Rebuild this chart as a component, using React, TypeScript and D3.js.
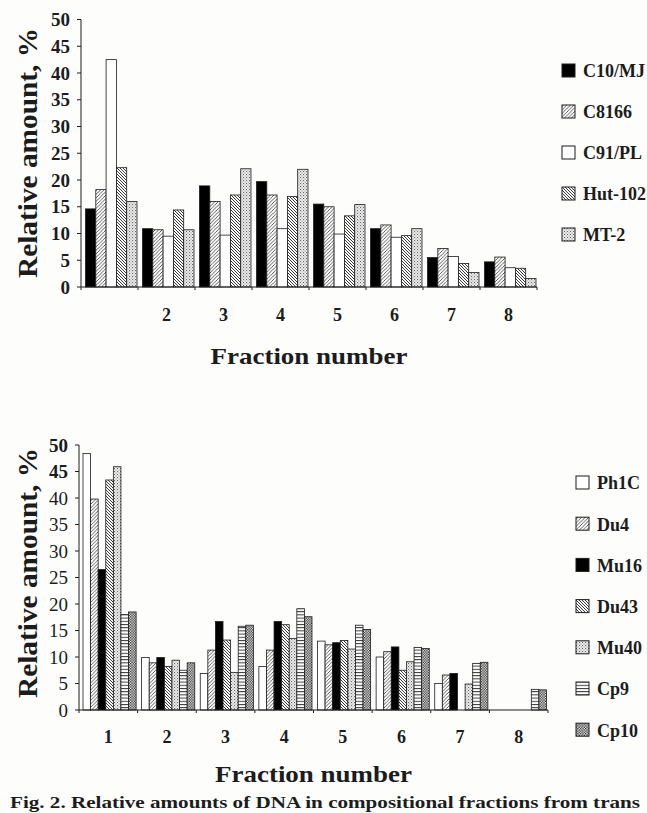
import React from "react";
import * as d3 from "d3";

const fractions = ["1", "2", "3", "4", "5", "6", "7", "8"];
const yTicks = [0, 5, 10, 15, 20, 25, 30, 35, 40, 45, 50];

const topSeries = ["C10/MJ", "C8166", "C91/PL", "Hut-102", "MT-2"];
const topC10MJ = [14.6, 10.9, 18.9, 19.7, 15.5, 10.9, 5.5, 4.7];
const topC8166 = [18.2, 10.7, 16.0, 17.2, 15.0, 11.6, 7.2, 5.6];
const topC91PL = [42.5, 9.5, 9.7, 10.9, 9.9, 9.3, 5.7, 3.6];
const topHut102 = [22.3, 14.4, 17.2, 16.9, 13.3, 9.6, 4.4, 3.5];
const topMT2 = [16.0, 10.7, 22.1, 22.0, 15.4, 10.9, 2.7, 1.6];
const topValues = [topC10MJ, topC8166, topC91PL, topHut102, topMT2];
const topFills = ["black", "url(#fwd)", "white", "url(#back)", "url(#dots)"];
const topXLabels = ["", "2", "3", "4", "5", "6", "7", "8"];

const botSeries = ["Ph1C", "Du4", "Mu16", "Du43", "Mu40", "Cp9", "Cp10"];
const botPh1C = [48.4, 9.9, 6.9, 8.2, 13.0, 10.0, 5.0, 0];
const botDu4 = [39.8, 8.9, 11.3, 11.3, 12.3, 11.0, 6.6, 0];
const botMu16 = [26.5, 9.9, 16.7, 16.7, 12.7, 11.9, 6.9, 0];
const botDu43 = [43.4, 8.2, 13.2, 16.1, 13.1, 7.5, 0, 0];
const botMu40 = [45.9, 9.4, 7.1, 13.5, 11.5, 9.1, 4.9, 0];
const botCp9 = [18.0, 7.5, 15.8, 19.1, 16.0, 11.8, 8.8, 3.9];
const botCp10 = [18.5, 8.9, 16.0, 17.6, 15.2, 11.6, 9.0, 3.8];
const botValues = [botPh1C, botDu4, botMu16, botDu43, botMu40, botCp9, botCp10];
const botFills = ["white", "url(#fwd)", "black", "url(#back)", "url(#dots)", "url(#hlines)", "url(#checks)"];
const botXLabels = ["1", "2", "3", "4", "5", "6", "7", "8"];

const serif = "'Liberation Serif', 'Times New Roman', serif";
const ink = "#1c1c1c";

type PanelProps = {
  series: string[];
  values: number[][];
  fills: string[];
  xLabels: string[];
  x0: number;
  x1: number;
  yZero: number;
  yTop: number;
  innerPad: [number, number];
  labelY: number;
  titleY: number;
  yTitleCenter: number;
  legendX: number;
  legendY0: number;
  legendStep: number;
  tickLabelRight: number;
  boldTicks: (v: number) => boolean;
};

function Panel(p: PanelProps) {
  const xg = d3.scaleBand<string>().domain(fractions).range([p.x0, p.x1]).padding(0);
  const xi = d3
    .scaleBand<string>()
    .domain(p.series)
    .range([p.innerPad[0], xg.bandwidth() - p.innerPad[1]])
    .padding(0);
  const y = d3.scaleLinear().domain([0, 50]).range([p.yZero, p.yTop]);
  const boundaries = fractions.map((f) => xg(f) as number).concat([p.x1]);

  return (
    <g>
      {p.series.map((s, si) =>
        fractions.map((f, fi) => {
          const v = p.values[si][fi];
          const bx = (xg(f) as number) + (xi(s) as number);
          return (
            <rect
              key={s + f}
              x={bx}
              y={y(v)}
              width={xi.bandwidth()}
              height={p.yZero - y(v)}
              fill={p.fills[si]}
              stroke={ink}
              strokeWidth={0.8}
            />
          );
        })
      )}
      <line x1={p.x0} x2={p.x0} y1={y(50)} y2={p.yZero} stroke={ink} strokeWidth={1} />
      <line x1={p.x0} x2={p.x1} y1={p.yZero} y2={p.yZero} stroke={ink} strokeWidth={1} />
      {yTicks.map((t) => (
        <g key={"yt" + t}>
          <line x1={p.x0 - 4} x2={p.x0} y1={y(t)} y2={y(t)} stroke={ink} strokeWidth={1} />
          <text
            x={p.tickLabelRight}
            y={y(t)}
            dy="0.35em"
            textAnchor="end"
            fontFamily={serif}
            fontWeight={p.boldTicks(t) ? "bold" : "normal"}
            fontSize={19}
            fill={ink}
          >
            {t}
          </text>
        </g>
      ))}
      {boundaries.map((b, i) => (
        <line key={"xt" + i} x1={b} x2={b} y1={p.yZero} y2={p.yZero + 3} stroke={ink} strokeWidth={1} />
      ))}
      {fractions.map((f, i) => (
        <text
          key={"xl" + f}
          x={(xg(f) as number) + xg.bandwidth() / 2}
          y={p.labelY}
          textAnchor="middle"
          fontFamily={serif}
          fontWeight="bold"
          fontSize={18}
          fill={ink}
        >
          {p.xLabels[i]}
        </text>
      ))}
      <text
        x={(p.x0 + p.x1) / 2}
        y={p.titleY}
        textAnchor="middle"
        fontFamily={serif}
        fontWeight="bold"
        fontSize={23}
        fill={ink}
        textLength={197}
        lengthAdjust="spacingAndGlyphs"
      >
        Fraction number
      </text>
      <text
        transform={`translate(37, ${p.yTitleCenter}) rotate(-90)`}
        textAnchor="middle"
        fontFamily={serif}
        fontWeight="bold"
        fontSize={27}
        fill={ink}
        textLength={250}
        lengthAdjust="spacingAndGlyphs"
      >
        Relative amount, %
      </text>
      {p.series.map((s, si) => {
        const ly = p.legendY0 + si * p.legendStep;
        return (
          <g key={"lg" + s}>
            <rect x={p.legendX} y={ly - 7} width={13} height={13} fill={p.fills[si]} stroke={ink} strokeWidth={1} />
            <text
              x={p.legendX + 21}
              y={ly}
              dy="0.35em"
              fontFamily={serif}
              fontWeight="bold"
              fontSize={18}
              fill={ink}
            >
              {s}
            </text>
          </g>
        );
      })}
    </g>
  );
}

export default function App() {
  return (
    <svg
      width={647}
      height={813}
      style={{ position: "absolute", left: 0, top: 0, background: "#fdfdfc" }}
    >
      <defs>
        <pattern id="fwd" patternUnits="userSpaceOnUse" width={3.5} height={3.5}>
          <rect width={3.5} height={3.5} fill="white" />
          <path d="M-1,1 L1,-1 M0,3.5 L3.5,0 M2.5,4.5 L4.5,2.5" stroke="#333" strokeWidth={0.8} />
        </pattern>
        <pattern id="back" patternUnits="userSpaceOnUse" width={3} height={3}>
          <rect width={3} height={3} fill="white" />
          <path d="M-1,2 L1,4 M0,0 L3,3 M2,-1 L4,1" stroke="#222" strokeWidth={0.9} />
        </pattern>
        <pattern id="dots" patternUnits="userSpaceOnUse" width={3} height={3}>
          <rect width={3} height={3} fill="#eeeeee" />
          <rect x={0} y={0} width={1.1} height={1.1} fill="#666" />
          <rect x={1.5} y={1.5} width={1.1} height={1.1} fill="#999" />
        </pattern>
        <pattern id="hlines" patternUnits="userSpaceOnUse" width={4} height={3.2}>
          <rect width={4} height={3.2} fill="white" />
          <line x1={0} x2={4} y1={0.5} y2={0.5} stroke="#222" strokeWidth={0.9} />
        </pattern>
        <pattern id="checks" patternUnits="userSpaceOnUse" width={2.6} height={2.6}>
          <rect width={2.6} height={2.6} fill="white" />
          <rect x={0} y={0} width={1.3} height={1.3} fill="#222" />
          <rect x={1.3} y={1.3} width={1.3} height={1.3} fill="#222" />
        </pattern>
      </defs>
      <Panel
        series={topSeries}
        values={topValues}
        fills={topFills}
        xLabels={topXLabels}
        x0={81}
        x1={537}
        yZero={287}
        yTop={19.5}
        innerPad={[4.5, 1]}
        labelY={321}
        titleY={364}
        yTitleCenter={153}
        legendX={562}
        legendY0={71}
        legendStep={41}
        tickLabelRight={70}
        boldTicks={() => true}
      />
      <Panel
        series={botSeries}
        values={botValues}
        fills={botFills}
        xLabels={botXLabels}
        x0={79}
        x1={548}
        yZero={710}
        yTop={445}
        innerPad={[4, 1.5]}
        labelY={743}
        titleY={782}
        yTitleCenter={573}
        legendX={576}
        legendY0={483}
        legendStep={41.2}
        tickLabelRight={68}
        boldTicks={(v) => v >= 45}
      />
      <text
        x={10}
        y={808}
        fontFamily={serif}
        fontWeight="bold"
        fontSize={17}
        fill={ink}
        textLength={630}
        lengthAdjust="spacingAndGlyphs"
      >
        Fig. 2. Relative amounts of DNA in compositional fractions from trans
      </text>
    </svg>
  );
}
